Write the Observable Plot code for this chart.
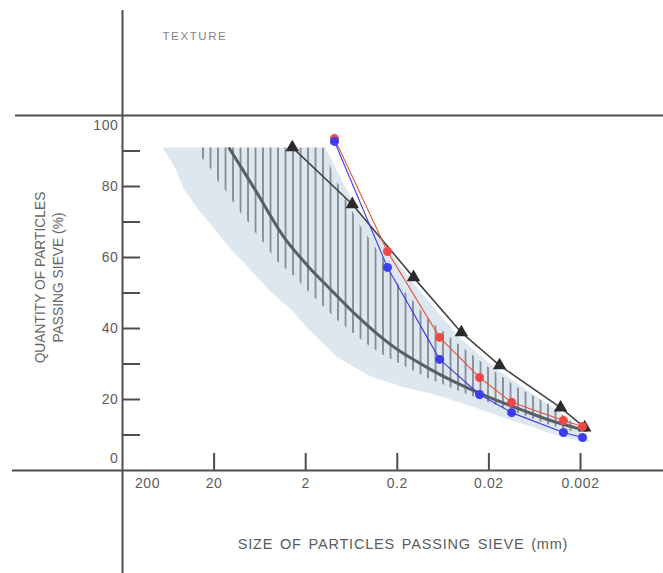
<!DOCTYPE html>
<html>
<head>
<meta charset="utf-8">
<script src="https://cdn.jsdelivr.net/npm/d3@7"></script>
<script src="https://cdn.jsdelivr.net/npm/@observablehq/plot@0.6"></script>
<style>
  html, body { margin: 0; padding: 0; background: #fff; }
  #chart svg { display: block; }
</style>
</head>
<body>
<div id="chart"></div>
<script>
// Axis ticks: sieve size (mm, reversed log scale) and percent passing
const xTicks = [200, 20, 2, 0.2, 0.02, 0.002];
const xTickLabels = ["200", "20", "2", "0.2", "0.02", "0.002"];
const yTicks = [10, 20, 30, 40, 50, 60, 70, 80, 90];
const yLabels = [20, 40, 60, 80];

// Light blue envelope of the grading range (outline, clockwise)
const bandX = [73, 1.22, 0.62, 0.133, 0.040, 0.0153, 0.0033, 0.00156, 0.00168, 0.0033, 0.0070, 0.0149, 0.038, 0.087, 0.185, 0.39, 0.90, 1.9, 2.9, 4.85, 6.7, 13.2, 18.4, 30.4, 43, 53];
const bandY = [91, 91, 76, 52.7, 36.9, 27.9, 16.3, 8.2, 7.9, 9.6, 12.4, 15.2, 18.9, 21.7, 23.7, 26.5, 31.8, 40.0, 45.4, 50.4, 54.4, 62.5, 67.0, 73.8, 79.4, 85.1];

// Hatched zone inside the envelope (outline, clockwise)
const hatchX = [27.5, 1.28, 1.02, 0.736, 0.505, 0.290, 0.199, 0.136, 0.0935, 0.0441, 0.0207, 0.00975, 0.00458, 0.00227, 0.00227, 0.00458, 0.00975, 0.0202, 0.0430, 0.0912, 0.199, 0.290, 0.423, 0.617, 0.90, 1.28, 1.86, 2.72, 3.96, 4.85, 5.78, 7.06, 8.42, 10.3, 12.3, 15.0, 18.4, 21.9, 26.8, 27.5];
const hatchY = [91, 91, 83.9, 76.6, 68.7, 60.0, 52.7, 47.9, 42.8, 35.8, 29.3, 23.4, 18.9, 13.0, 10.7, 13.0, 16.3, 19.2, 22.5, 25.9, 30.4, 32.7, 35.5, 38.9, 42.3, 46.2, 50.4, 54.9, 58.6, 61.4, 64.2, 67.0, 69.9, 72.7, 75.5, 78.9, 81.7, 85.1, 87.9, 88.0];

// Ideal grading curve (dark grey)
const curveX = [13.6, 7.06, 3.49, 1.91, 1.07, 0.543, 0.305, 0.185, 0.0869, 0.0487, 0.0207, 0.00904, 0.00394, 0.00176];
const curveY = [90.7, 78.9, 65.9, 57.7, 51.0, 43.4, 37.7, 33.5, 28.5, 25.1, 20.8, 17.2, 13.8, 11.3];

// Sample with triangles
const triX = [2.8, 0.62, 0.133, 0.040, 0.0153, 0.0033, 0.0018];
const triY = [91, 75, 54.4, 38.9, 29.6, 17.7, 12.1];

// Red and blue samples share the same sieves
const sieveX = [0.97, 0.256, 0.069, 0.0253, 0.0113, 0.00307, 0.0019];
const redY = [93.5, 61.7, 37.5, 26.2, 19.2, 14.1, 12.4];
const blueY = [92.7, 57.2, 31.3, 21.4, 16.3, 10.7, 9.3];

const titleText = "TEXTURE";
const xTitle = "SIZE OF PARTICLES PASSING SIEVE (mm)";
const yTitle = "QUANTITY OF PARTICLES\nPASSING SIEVE (%)";

const pts = (xs, ys) => xs.map((x, i) => ({x, y: ys[i]}));
const band = pts(bandX, bandY);
const hatch = pts(hatchX, hatchY);
const curve = pts(curveX, curveY);
const tri = pts(triX, triY);
const red = pts(sieveX, redY);
const blue = pts(sieveX, blueY);

const axisColor = "#4e4e4e";
const textColor = "#5c5c5c";

const chart = Plot.plot({
  width: 663,
  height: 573,
  marginLeft: 12,
  marginRight: 0,
  marginTop: 10,
  marginBottom: 0,
  style: {fontFamily: "'Liberation Sans', Arial, Helvetica, sans-serif", background: "#fff", color: textColor},
  x: {type: "log", domain: [200, 0.002], range: [122, 580], axis: null},
  y: {domain: [0, 100], range: [470, 115], axis: null},
  marks: [
    // envelope and hatched zone
    Plot.line(band, {x: "x", y: "y", fill: "#dde7f0", stroke: "none"}),
    Plot.line(hatch, {x: "x", y: "y", fill: "url(#hatch)", stroke: "none"}),

    // axis lines and ticks
    Plot.ruleY([0], {stroke: axisColor, strokeWidth: 2}),
    Plot.ruleY([100], {stroke: axisColor, strokeWidth: 2, insetLeft: 3}),
    Plot.ruleX([xTicks[0]], {stroke: axisColor, strokeWidth: 2}),
    Plot.tickY(yTicks, {y: d => d, stroke: axisColor, strokeWidth: 2, insetLeft: 110, insetRight: 523}),
    Plot.tickX(xTicks.slice(1), {x: d => d, stroke: axisColor, strokeWidth: 2, insetTop: 443, insetBottom: 103}),

    // tick labels
    Plot.text(yLabels, {x: () => xTicks[0], y: d => d, text: d => String(d), textAnchor: "end", dx: -4, fontSize: 14, fill: textColor}),
    Plot.text([100], {x: () => xTicks[0], y: d => d, text: d => String(d), textAnchor: "end", dx: -4, dy: 10, fontSize: 14, fill: textColor}),
    Plot.text([0], {x: () => xTicks[0], y: d => d, text: d => String(d), textAnchor: "end", dx: -4, dy: -12, fontSize: 14, fill: textColor}),
    Plot.text(xTicks.slice(1), {x: d => d, y: () => 0, text: (d, i) => xTickLabels[i + 1], dy: 13, fontSize: 14, fill: textColor}),
    Plot.text([xTicks[0]], {x: d => d, y: () => 0, text: () => xTickLabels[0], dx: 25, dy: 13, fontSize: 14, fill: textColor}),

    // titles
    Plot.text([titleText], {frameAnchor: "top-left", text: d => d, textAnchor: "start", dx: 150, dy: 21, fontSize: 11.5, fill: "#858585"}),
    Plot.text([xTitle], {frameAnchor: "bottom", text: d => d, textAnchor: "middle", dx: 65, dy: -25, fontSize: 14.5, fill: textColor}),
    Plot.text([yTitle], {frameAnchor: "left", text: d => d, textAnchor: "middle", rotate: -90, dx: 35.5, dy: -14.5, fontSize: 13.8, lineHeight: 1.35, fill: "#666"}),

    // grading curve and samples
    Plot.line(curve, {x: "x", y: "y", stroke: "#5a5e65", strokeWidth: 3, curve: "catmull-rom"}),
    Plot.line(tri, {x: "x", y: "y", stroke: "#454545", strokeWidth: 1.6}),
    Plot.line(red, {x: "x", y: "y", stroke: "#e4553f", strokeWidth: 1.1}),
    Plot.line(blue, {x: "x", y: "y", stroke: "#3b3bea", strokeWidth: 1.1}),
    Plot.dot(tri, {x: "x", y: "y", symbol: "triangle", r: 5, fill: "#2b2b2b", stroke: "none"}),
    Plot.dot(red, {x: "x", y: "y", r: 4.5, fill: "#f04646", stroke: "none"}),
    Plot.dot(blue, {x: "x", y: "y", r: 4.5, fill: "#3c3cf2", stroke: "none"})
  ]
});

// vertical hatch pattern used by the hatched zone
const defs = document.createElementNS("http://www.w3.org/2000/svg", "defs");
defs.innerHTML = '<pattern id="hatch" patternUnits="userSpaceOnUse" x="201.6" y="0" width="7.5" height="20">' +
  '<rect x="0" y="0" width="1.8" height="20" fill="#868b93"></rect></pattern>';
chart.insertBefore(defs, chart.firstChild);

// widened lettering of the printed labels
const tickStrings = new Set([...xTickLabels, "0", "100", ...yLabels.map(String)]);
chart.querySelectorAll("text").forEach(t => {
  const s = t.textContent;
  if (tickStrings.has(s)) t.style.letterSpacing = "0.6px";
  else if (s === xTitle) { t.style.letterSpacing = "0.8px"; t.style.wordSpacing = "2px"; }
  else if (s === titleText) t.style.letterSpacing = "1.6px";
});

document.getElementById("chart").appendChild(chart);
</script>
</body>
</html>
